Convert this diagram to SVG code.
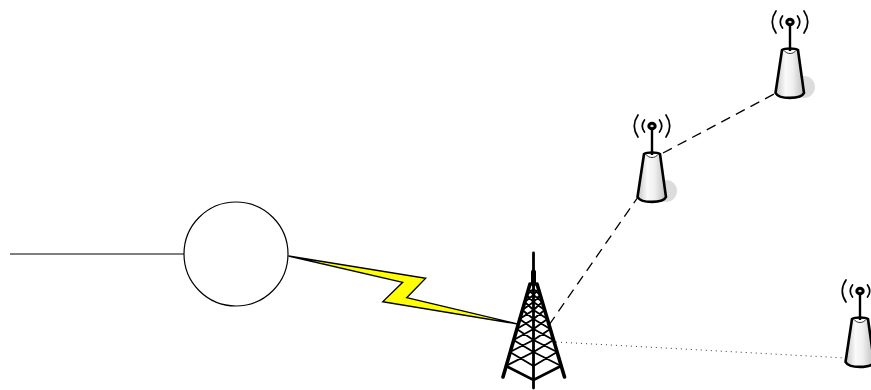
<svg xmlns="http://www.w3.org/2000/svg" width="871" height="390" viewBox="0 0 871 390">
<style>
.c{fill:none;stroke:#000;stroke-width:1.200}
.d{stroke-dasharray:10 6.500;stroke-width:1.300}
.o{stroke-dasharray:1 4;stroke-width:1;stroke:#333}
.w{fill:none;stroke:#000;stroke-width:1.700;stroke-linecap:round}
.t{fill:none;stroke:#000;stroke-linecap:round}
</style>
<defs>
<linearGradient id="g" x1="0" x2="1" y1="0" y2="0">
<stop offset="0" stop-color="#c4c4c4"/><stop offset="0.35" stop-color="#fafafa"/><stop offset="0.6" stop-color="#f0f0f0"/><stop offset="1" stop-color="#bdbdbd"/>
</linearGradient>
<g id="ant">
<ellipse cx="14" cy="65" rx="11" ry="11" fill="#dcdcdc"/>
<path d="M-8 28C-5 26 5 26 8 28L14 71C11 77.500 -11 77.500 -14.500 71Z" fill="url(#g)" stroke="#000" stroke-width="2.600"/>
<path d="M-6 28.500C-3 32.500 3 32.500 6 28.500" fill="#fff" stroke="#000" stroke-width="0.800"/>
<path d="M0 2V29" stroke="#000" stroke-width="2.400"/>
<ellipse cx="0" cy="0" rx="3.200" ry="2.800" fill="#ddd" stroke="#000" stroke-width="3"/>
<path class="w" d="M-7.500 -6Q-12 0 -7.500 6M7.500 -6Q12 0 7.500 6M-14 -11Q-21.500 0 -14 11M14 -11Q21.500 0 14 11"/>
</g>
</defs>
<g id="connectors">
<path class="c" d="M10 254H184"/>
<path class="c d" d="M549 325L638 197"/>
<path class="c d" d="M663 153L778 92"/>
<path class="c o" d="M556 342L845 358"/>
</g>
<g id="cloud"><circle cx="236" cy="254" r="52" fill="#fff" stroke="#000" stroke-width="1.200"/></g>
<g id="bolt"><path d="M288.500 256L425.700 278.300L406.700 297.700L519.300 324.300L382.700 301.700L402.700 282.300Z" fill="#ff0" stroke="#000" stroke-width="1.300" stroke-linejoin="miter"/></g>
<g id="tower">
<path class="t" stroke-width="2.800" d="M533.500 253V388"/>
<path class="t" stroke-width="5" d="M533.500 272V284"/>
<path class="t" stroke-width="3.600" d="M530 284L503 377M537 284L564.500 377"/>
<path class="t" stroke-width="2.600" d="M508 367L533.500 380L559 367"/>
<path class="t" stroke-width="1.900" d="M505.800 366L533.500 352M509.900 352L533.500 366M561.200 366L533.500 352M557.100 352L533.500 366M509.900 352L533.500 340M513.500 340L533.500 352M557.100 352L533.500 340M553.500 340L533.500 352M513.500 340L533.500 329M516.700 329L533.500 340M553.500 340L533.500 329M550.300 329L533.500 340M516.700 329L533.500 319M519.600 319L533.500 329M550.300 329L533.500 319M547.400 319L533.500 329M519.600 319L533.500 310M522.300 310L533.500 319M547.400 319L533.500 310M544.700 310L533.500 319M522.300 310L533.500 302M524.700 302L533.500 310M544.700 310L533.500 302M542.300 302L533.500 310M524.700 302L533.500 295M526.700 295L533.500 302M542.300 302L533.500 295M540.300 295L533.500 302M526.700 295L533.500 289M528.500 289L533.500 295M540.300 295L533.500 289M538.500 289L533.500 295"/>
</g>
<g id="ap1"><use href="#ant" x="652" y="126"/></g>
<g id="ap2"><use href="#ant" x="790" y="22"/></g>
<g id="ap3"><use href="#ant" x="860" y="291"/></g>
</svg>
